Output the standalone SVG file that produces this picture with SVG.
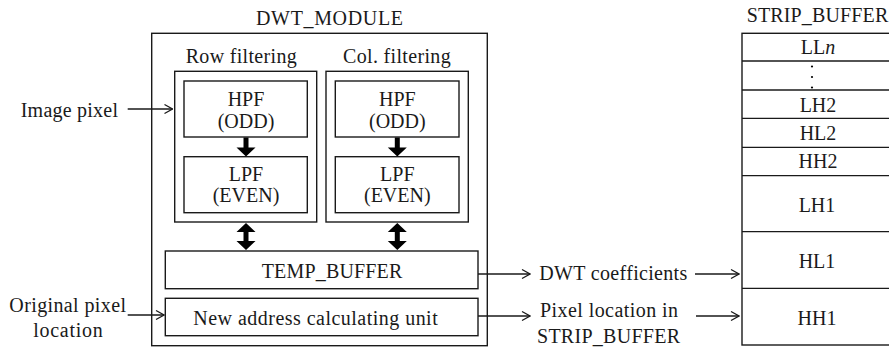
<svg xmlns="http://www.w3.org/2000/svg" width="889" height="349" viewBox="0 0 889 349">
<style>
.box{fill:#fff;stroke:#1a1a1a;stroke-width:1.4}
.t{font-family:"Liberation Serif","Times New Roman",serif;font-size:20px;fill:#1a1a1a}
.c{text-anchor:middle}
.ln{stroke:#1a1a1a;stroke-width:1.3;fill:none}
.blk{fill:#000}
</style>
<defs>
<marker id="ah" viewBox="0 0 10 10" refX="9.5" refY="5" markerWidth="10" markerHeight="10" markerUnits="userSpaceOnUse" orient="auto">
<path d="M1.5,0.5 L9.5,5 L1.5,9.5" fill="none" stroke="#1a1a1a" stroke-width="1.2"/>
</marker>
</defs>

<g id="dwt_module">
<rect class="box" x="151.7" y="33.3" width="335.6" height="312.4"/>
<text class="t" x="256" y="25" textLength="147">DWT_MODULE</text>
</g>

<g id="row_filtering">
<rect class="box" x="174.7" y="71.3" width="142" height="150.7"/>
<text class="t" x="185.7" y="63.3" textLength="111">Row filtering</text>
</g>
<g id="row_hpf">
<rect class="box" x="184" y="81" width="123.3" height="56"/>
<text class="t c" x="246" y="106">HPF</text>
<text class="t c" x="246" y="127.5">(ODD)</text>
</g>
<g id="row_lpf">
<rect class="box" x="184" y="156.7" width="123.3" height="56"/>
<text class="t c" x="246" y="180.5">LPF</text>
<text class="t c" x="246" y="202">(EVEN)</text>
</g>

<g id="col_filtering">
<rect class="box" x="326" y="71.3" width="142.3" height="150.7"/>
<text class="t" x="343" y="63.3" textLength="107.7">Col. filtering</text>
</g>
<g id="col_hpf">
<rect class="box" x="335.3" y="81" width="123.7" height="56"/>
<text class="t c" x="397.3" y="106">HPF</text>
<text class="t c" x="397.3" y="127.5">(ODD)</text>
</g>
<g id="col_lpf">
<rect class="box" x="335.3" y="156.7" width="123.7" height="56"/>
<text class="t c" x="397.3" y="180.5">LPF</text>
<text class="t c" x="397.3" y="202">(EVEN)</text>
</g>

<g id="temp_buffer">
<rect class="box" x="165.3" y="251" width="312.7" height="37.7"/>
<text class="t" x="261.7" y="278" textLength="140.6">TEMP_BUFFER</text>
</g>
<g id="address_unit">
<rect class="box" x="165.3" y="298.3" width="312.7" height="37.4"/>
<text class="t" x="193.3" y="325" textLength="244.4">New address calculating unit</text>
</g>

<g id="strip_buffer">
<text class="t" x="746.7" y="22" textLength="141.6">STRIP_BUFFER</text>
<rect class="box" x="742" y="33.3" width="152" height="311.7"/>
<line class="ln" x1="742" y1="61" x2="894" y2="61"/>
<line class="ln" x1="742" y1="90" x2="894" y2="90"/>
<line class="ln" x1="742" y1="118.3" x2="894" y2="118.3"/>
<line class="ln" x1="742" y1="147.3" x2="894" y2="147.3"/>
<line class="ln" x1="742" y1="175.7" x2="894" y2="175.7"/>
<line class="ln" x1="742" y1="231.7" x2="894" y2="231.7"/>
<line class="ln" x1="742" y1="288.3" x2="894" y2="288.3"/>
<text class="t c" x="818" y="53.5">LL<tspan font-style="italic">n</tspan></text>
<circle class="blk" cx="812" cy="66.5" r="1.1"/>
<circle class="blk" cx="812" cy="77" r="1.1"/>
<circle class="blk" cx="812" cy="87.5" r="1.1"/>
<text class="t c" x="818" y="111.7">LH2</text>
<text class="t c" x="818" y="140">HL2</text>
<text class="t c" x="818" y="168.3">HH2</text>
<text class="t c" x="817" y="211.7">LH1</text>
<text class="t c" x="817" y="268.3">HL1</text>
<text class="t c" x="817" y="325">HH1</text>
</g>

<g id="labels">
<text class="t" x="20.7" y="116.7" textLength="97.3">Image pixel</text>
<text class="t" x="9.3" y="311.7" textLength="116.7">Original pixel</text>
<text class="t" x="33.3" y="336.7" textLength="69.4">location</text>
<text class="t" x="539.3" y="280" textLength="148">DWT coefficients</text>
<text class="t" x="540" y="317" textLength="138">Pixel location in</text>
<text class="t" x="537" y="343" textLength="143">STRIP_BUFFER</text>
</g>

<g id="connectors">
<line class="ln" x1="127.7" y1="109" x2="172.5" y2="109" marker-end="url(#ah)"/>
<line class="ln" x1="127.7" y1="315" x2="164" y2="315" marker-end="url(#ah)"/>
<line class="ln" x1="478" y1="274" x2="530" y2="274" marker-end="url(#ah)"/>
<line class="ln" x1="478" y1="316" x2="530" y2="316" marker-end="url(#ah)"/>
<line class="ln" x1="695" y1="274" x2="739" y2="274" marker-end="url(#ah)"/>
<line class="ln" x1="696" y1="316" x2="739" y2="316" marker-end="url(#ah)"/>
<polygon class="blk" points="243.5,137.5 248.5,137.5 248.5,147.5 255.5,147.5 246,156.5 236.5,147.5 243.5,147.5"/>
<polygon class="blk" points="394.8,137.5 399.8,137.5 399.8,147.5 406.8,147.5 397.3,156.5 387.8,147.5 394.8,147.5"/>
<polygon class="blk" points="246,223 255.5,232 248.5,232 248.5,241 255.5,241 246,250 236.5,241 243.5,241 243.5,232 236.5,232"/>
<polygon class="blk" points="397.3,223 406.8,232 399.8,232 399.8,241 406.8,241 397.3,250 387.8,241 394.8,241 394.8,232 387.8,232"/>
</g>
</svg>
